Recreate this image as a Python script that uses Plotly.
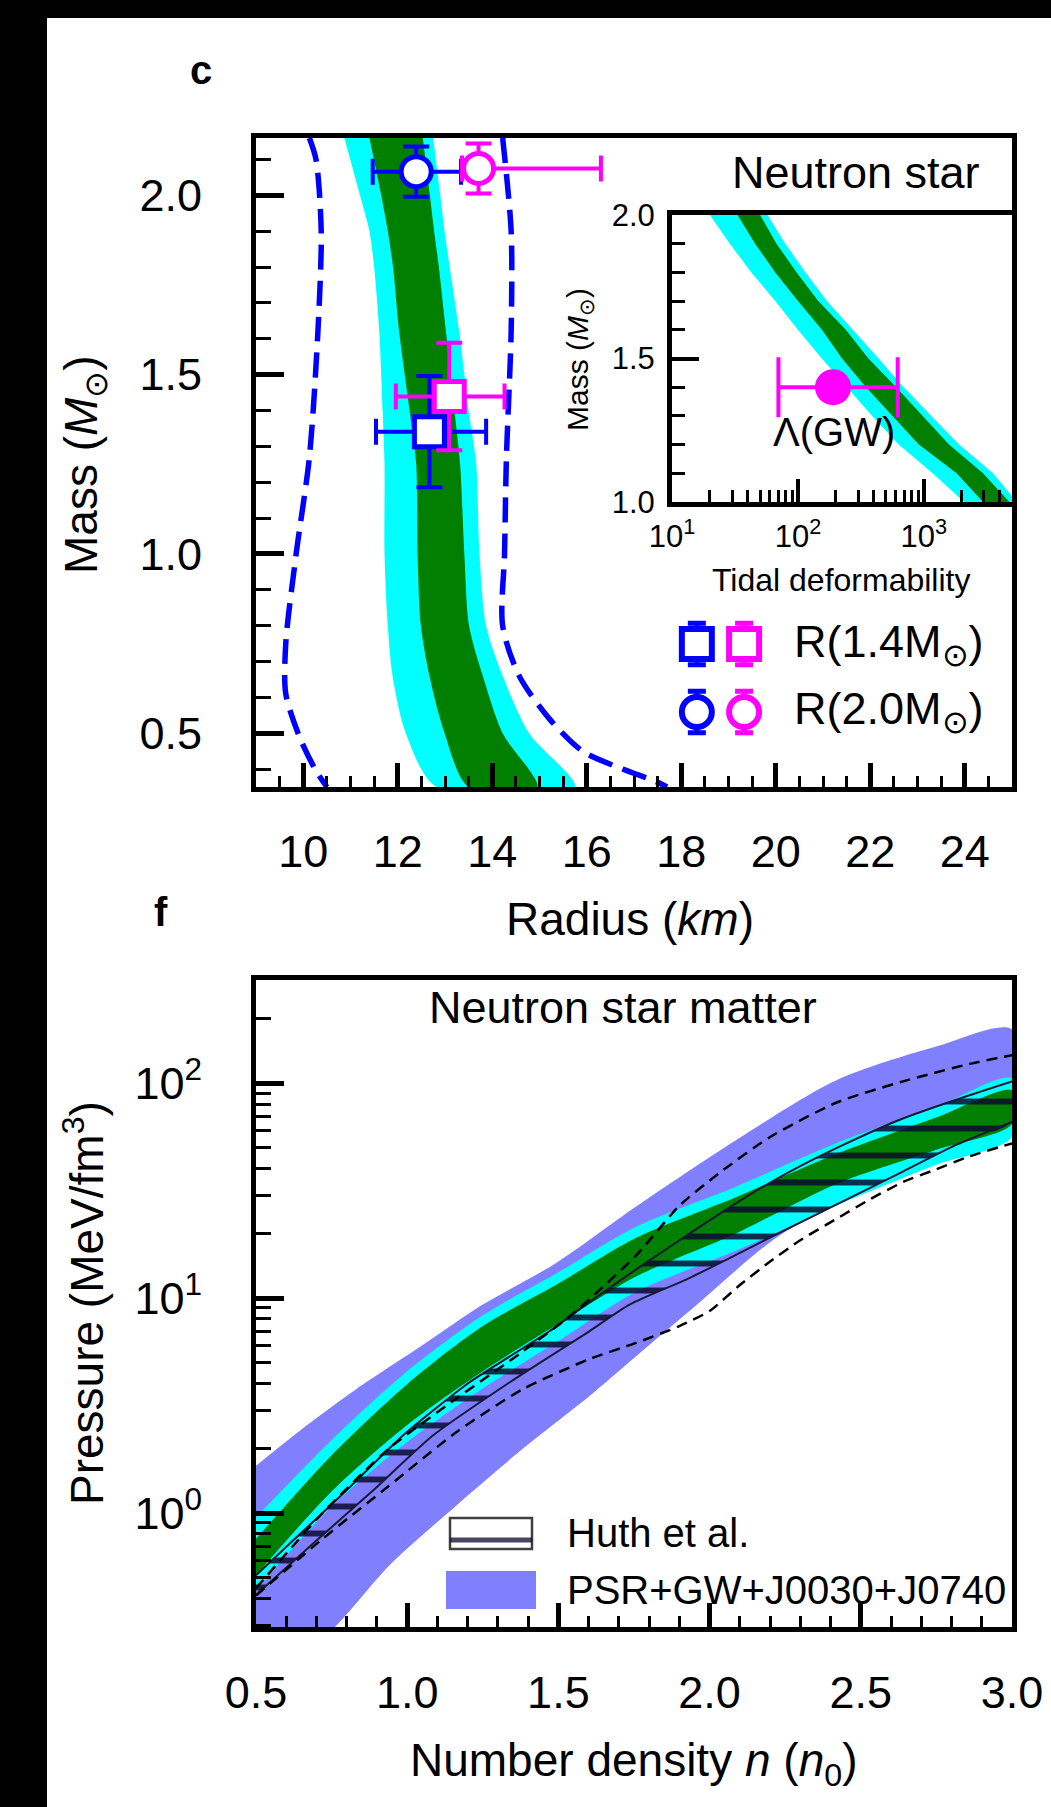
import plotly.graph_objects as go

W, H = 1051, 1807
def px(x): return x / W
def py(y): return 1 - y / H

# ---------------- Panel c: mass-radius ----------------
mass_band = [2.16, 2.00, 1.90, 1.80, 1.62, 1.40, 1.25, 1.00, 0.80, 0.66, 0.50, 0.35]
r_cyan_left = [10.87, 11.20, 11.40, 11.50, 11.61, 11.68, 11.72, 11.72, 11.79, 11.89, 12.17, 12.82]
r_green_left = [11.40, 11.65, 11.79, 11.90, 12.03, 12.25, 12.39, 12.42, 12.49, 12.67, 12.99, 13.50]
r_green_right = [12.53, 12.68, 12.77, 12.87, 13.02, 13.20, 13.32, 13.41, 13.51, 13.80, 14.22, 14.95]
r_cyan_right = [12.75, 12.90, 12.99, 13.10, 13.30, 13.50, 13.66, 13.73, 13.87, 14.22, 14.78, 15.75]

mass_dash_left = [2.16, 2.10, 1.90, 1.62, 1.27, 1.00, 0.75, 0.61, 0.49, 0.40, 0.35]
r_dash_left = [10.13, 10.27, 10.38, 10.31, 10.13, 9.85, 9.63, 9.63, 9.92, 10.25, 10.50]
mass_dash_right = [2.16, 1.90, 1.62, 1.27, 1.00, 0.80, 0.66, 0.54, 0.45, 0.40, 0.365, 0.35]
r_dash_right = [14.22, 14.40, 14.40, 14.30, 14.26, 14.22, 14.57, 15.21, 15.91, 16.76, 17.47, 17.70]

# measurements: radius, mass, errors
blue_circle = dict(r=12.39, m=2.066, rm=0.92, rp=0.95, me=0.07)
mag_circle = dict(r=13.71, m=2.075, rm=0.35, rp=2.59, me=0.07)
blue_square = dict(r=12.67, m=1.341, rm=1.13, rp=1.20, me=0.155)
mag_square = dict(r=13.09, m=1.439, rm=1.13, rp=1.17, me=0.15)

# inset: tidal deformability
mass_inset = [2.0, 1.9, 1.8, 1.7, 1.6, 1.5, 1.4, 1.3, 1.2, 1.1, 1.0]
lam_cyan_left = [20, 28.8, 42.7, 66.1, 100, 155, 245, 389, 631, 1175, 2089]
lam_green_left = [33.1, 45.7, 66.1, 100, 155, 224, 347, 562, 912, 1820, 2951]
lam_green_right = [50.1, 67.6, 97.7, 145, 240, 363, 603, 977, 1585, 2951, 4786]
lam_cyan_right = [57.5, 79.4, 115, 170, 275, 437, 692, 1148, 1905, 3548, 5495]
gw_lambda, gw_mass, gw_minus, gw_plus = 190, 1.4, 120, 430

# ---------------- Panel f: pressure-density ----------------
n_psr_top = [0.5, 0.665, 0.83, 1.05, 1.25, 1.49, 1.757, 2.087, 2.418, 2.749, 3.0]
p_psr_top = [1.66, 2.54, 3.76, 6.03, 9.33, 14.5, 26.7, 54.3, 103, 148, 178]
n_psr_bot = [0.5, 0.765, 0.94, 1.161, 1.38, 1.602, 1.757, 1.977, 2.2, 2.42, 2.64, 2.86, 3.0]
p_psr_bot = [0.141, 0.299, 0.569, 1.08, 1.98, 3.50, 5.37, 9.84, 18.2, 28.2, 39.8, 50.1, 57.5]

n_band = [0.5, 0.75, 1.0, 1.25, 1.5, 1.757, 2.087, 2.418, 2.749, 3.0]
p_cyan_top = [0.955, 2.19, 4.57, 8.32, 13.2, 21.5, 33.0, 52.5, 77.6, 105]
p_green_top = [0.759, 1.86, 3.98, 7.41, 11.7, 19.1, 29.5, 46.8, 69.2, 92.7]
p_green_bot = [0.513, 1.26, 2.57, 4.57, 7.59, 12.6, 20.0, 33.9, 49.0, 64.6]
p_cyan_bot = [0.437, 1.07, 2.14, 3.80, 6.31, 10.7, 16.6, 26.9, 41.7, 56.2]

n_huth_up = [0.5, 0.61, 0.798, 0.985, 1.205, 1.47, 1.591, 1.757, 1.977, 2.121, 2.264, 2.44, 2.639, 2.859, 3.0]
p_huth_up = [0.513, 0.718, 1.27, 2.29, 4.05, 7.01, 9.33, 13.6, 21.9, 29.6, 38.7, 51.5, 68.5, 87.9, 102]
n_huth_lo = [0.5, 0.687, 0.886, 1.084, 1.338, 1.602, 1.735, 1.933, 2.11, 2.286, 2.462, 2.639, 2.815, 3.0]
p_huth_lo = [0.417, 0.718, 1.27, 2.29, 4.05, 7.01, 9.33, 12.4, 16.5, 22.0, 29.2, 38.8, 51.6, 66.1]

n_dash_up = [0.5, 0.72, 0.94, 1.16, 1.38, 1.55, 1.757, 1.90, 2.03, 2.2, 2.42, 2.64, 2.86, 3.0]
p_dash_up = [0.447, 1.0, 2.0, 3.39, 5.62, 8.51, 15.8, 26.9, 38.0, 56.2, 81.3, 102, 123, 135]
n_dash_lo = [0.5, 0.72, 0.94, 1.161, 1.38, 1.6, 1.757, 1.9, 2.0, 2.1, 2.2, 2.3, 2.42, 2.53, 2.64, 2.75, 2.86, 3.0]
p_dash_lo = [0.413, 0.759, 1.34, 2.37, 3.76, 5.19, 6.19, 7.41, 8.71, 11.5, 14.8, 18.6, 23.4, 28.8, 34.7, 39.8, 45.7, 52.5]

# tick labels
mass_ticks = [0.5, 1.0, 1.5, 2.0]
radius_ticks = [10, 12, 14, 16, 18, 20, 22, 24]
inset_mass_ticks = [1.0, 1.5, 2.0]
lam_ticks = [10, 100, 1000]
lam_ticktext = ["10<sup>1</sup>", "10<sup>2</sup>", "10<sup>3</sup>"]
dens_ticks = [0.5, 1.0, 1.5, 2.0, 2.5, 3.0]
p_ticks = [1, 10, 100]
p_ticktext = ["10<sup>0</sup>", "10<sup>1</sup>", "10<sup>2</sup>"]

CYAN = "#00ffff"
GREEN = "#007f00"
PURPLE = "#8080ff"
BLUE = "#0000ff"
MAG = "#ff00ff"
FONT = "Liberation Sans, Arial, Helvetica, sans-serif"

fig = go.Figure()

def band(xl, yl, xr, yr, color, xa, ya, spline=True):
    fig.add_trace(go.Scatter(
        x=list(xl) + list(xr)[::-1], y=list(yl) + list(yr)[::-1],
        fill="toself", fillcolor=color, mode="lines",
        line=dict(width=0, color=color, shape="spline" if spline else "linear", smoothing=0.8),
        xaxis=xa, yaxis=ya, hoverinfo="skip", showlegend=False))

# panel c bands
band(r_cyan_left, mass_band, r_cyan_right, mass_band, CYAN, "x", "y")
band(r_green_left, mass_band, r_green_right, mass_band, GREEN, "x", "y")
for rr, mm in [(r_dash_left, mass_dash_left), (r_dash_right, mass_dash_right)]:
    fig.add_trace(go.Scatter(x=rr, y=mm, mode="lines",
                             line=dict(color=BLUE, width=5.5, dash="25px,11px", shape="spline", smoothing=0.8),
                             xaxis="x", yaxis="y", showlegend=False))

def point(d, color, symbol, xa="x", ya="y", cap=13):
    fig.add_trace(go.Scatter(
        x=[d["r"]], y=[d["m"]], mode="markers",
        marker=dict(symbol=symbol, size=30, color="white", line=dict(color=color, width=5)),
        error_x=dict(type="data", symmetric=False, array=[d["rp"]], arrayminus=[d["rm"]],
                     color=color, thickness=4, width=cap),
        error_y=dict(type="data", array=[d["me"]], color=color, thickness=4, width=cap),
        xaxis=xa, yaxis=ya, showlegend=False))

point(blue_circle, BLUE, "circle")
point(mag_circle, MAG, "circle")
point(blue_square, BLUE, "square")
point(mag_square, MAG, "square")

# legend symbols of panel c (positions in data units of the panel)
leg_r = [18.33, 19.33]
leg_m = [0.749, 0.559]
for j, sym in enumerate(["square", "circle"]):
    for i, col in enumerate([BLUE, MAG]):
        fig.add_trace(go.Scatter(
            x=[leg_r[i]], y=[leg_m[j]], mode="markers",
            marker=dict(symbol=sym, size=30, color="white", line=dict(color=col, width=6)),
            error_y=dict(type="constant", value=0.058, color=col, thickness=5, width=9),
            xaxis="x", yaxis="y", showlegend=False))

# inset
band(lam_cyan_left, mass_inset, lam_cyan_right, mass_inset, CYAN, "x3", "y3", spline=False)
band(lam_green_left, mass_inset, lam_green_right, mass_inset, GREEN, "x3", "y3", spline=False)
fig.add_trace(go.Scatter(
    x=[gw_lambda], y=[gw_mass], mode="markers",
    marker=dict(symbol="circle", size=36, color=MAG),
    error_x=dict(type="data", symmetric=False, array=[gw_plus], arrayminus=[gw_minus],
                 color=MAG, thickness=4, width=30),
    xaxis="x3", yaxis="y3", showlegend=False))

# panel f
band(n_psr_top, p_psr_top, n_psr_bot, p_psr_bot, PURPLE, "x2", "y2")
band(n_band, p_cyan_top, n_band, p_cyan_bot, CYAN, "x2", "y2")
band(n_band, p_green_top, n_band, p_green_bot, GREEN, "x2", "y2")
fig.add_trace(go.Scatter(
    x=n_huth_up + n_huth_lo[::-1], y=p_huth_up + p_huth_lo[::-1],
    fill="toself", fillcolor="rgba(0,0,0,0)", mode="lines",
    fillpattern=dict(shape="-", size=27, solidity=0.22, fgcolor="rgba(10,10,45,0.85)",
                     bgcolor="rgba(0,0,0,0)"),
    line=dict(width=0, shape="spline", smoothing=0.6),
    xaxis="x2", yaxis="y2", showlegend=False))
for nn, pp in [(n_huth_up, p_huth_up), (n_huth_lo, p_huth_lo)]:
    fig.add_trace(go.Scatter(x=nn, y=pp, mode="lines",
                             line=dict(color="rgb(25,25,55)", width=2, shape="spline", smoothing=0.6),
                             xaxis="x2", yaxis="y2", showlegend=False))
for nn, pp in [(n_dash_up, p_dash_up), (n_dash_lo, p_dash_lo)]:
    fig.add_trace(go.Scatter(x=nn, y=pp, mode="lines",
                             line=dict(color="black", width=2.5, dash="11px,7px", shape="spline", smoothing=0.6),
                             xaxis="x2", yaxis="y2", showlegend=False))

def axis_common(**kw):
    d = dict(ticks="inside", tickcolor="black", showline=True, linecolor="black", linewidth=5,
             mirror=True, showgrid=False, zeroline=False, automargin=False,
             tickfont=dict(size=45, family=FONT, color="black"))
    d.update(kw)
    return d

minor_mass = dict(ticks="inside", tickmode="linear", tick0=0, dtick=0.1, ticklen=15, tickwidth=3,
                  tickcolor="black", showgrid=False)

lam_minor = [20, 30, 40, 50, 60, 70, 80, 90, 200, 300, 400, 500, 600, 700, 800, 900, 2000, 3000, 4000]
p_minor = [0.3, 0.4, 0.5, 0.6, 0.7, 0.8, 0.9, 2, 3, 4, 5, 6, 7, 8, 9, 20, 30, 40, 50, 60, 70, 80, 90, 200, 300]

fig.update_layout(
    template="none",
    width=W, height=H, margin=dict(l=0, r=0, t=0, b=0, autoexpand=False),
    paper_bgcolor="white", plot_bgcolor="white", showlegend=False,
    font=dict(family=FONT, color="black"),
    xaxis=axis_common(domain=[px(256), px(1012)], range=[9, 25], anchor="y",
                      tickmode="array", tickvals=radius_ticks, ticklen=24, tickwidth=5,
                      ticklabelstandoff=21,
                      minor=dict(ticks="inside", tickmode="linear", tick0=0, dtick=0.5, ticklen=11,
                                 tickwidth=3, tickcolor="black", showgrid=False)),
    yaxis=axis_common(domain=[py(787), py(138)], range=[0.35, 2.16], anchor="x",
                      tickmode="array", tickvals=mass_ticks, tickformat=".1f", ticklen=28, tickwidth=5,
                      ticklabelstandoff=40, minor=minor_mass),
    xaxis2=axis_common(domain=[px(256), px(1012)], range=[0.5, 3.0], anchor="y2",
                       tickmode="array", tickvals=dens_ticks, tickformat=".1f", ticklen=24, tickwidth=5,
                       ticklabelstandoff=22,
                       minor=dict(ticks="inside", tickmode="linear", tick0=0, dtick=0.1, ticklen=11,
                                  tickwidth=3, tickcolor="black", showgrid=False)),
    yaxis2=axis_common(domain=[py(1627), py(980)], type="log", range=[-0.53, 2.48], anchor="x2",
                       tickmode="array", tickvals=p_ticks, ticktext=p_ticktext, ticklen=28, tickwidth=5,
                       ticklabelstandoff=40,
                       minor=dict(ticks="inside", tickmode="array", tickvals=p_minor, ticklen=15,
                                  tickwidth=3, tickcolor="black", showgrid=False)),
    xaxis3=axis_common(domain=[px(672), px(1012)], type="log", range=[1, 3.7], anchor="y3",
                       tickmode="array", tickvals=lam_ticks, ticktext=lam_ticktext, ticklen=23, tickwidth=4,
                       ticklabelstandoff=3, tickfont=dict(size=31, family=FONT, color="black"),
                       minor=dict(ticks="inside", tickmode="array", tickvals=lam_minor, ticklen=12,
                                  tickwidth=2.5, tickcolor="black", showgrid=False)),
    yaxis3=axis_common(domain=[py(502), py(215)], range=[1.0, 2.0], anchor="x3",
                       tickmode="array", tickvals=inset_mass_ticks, tickformat=".1f", ticklen=27, tickwidth=4,
                       ticklabelstandoff=6, tickfont=dict(size=31, family=FONT, color="black"),
                       minor=dict(ticks="inside", tickmode="linear", tick0=0, dtick=0.1, ticklen=13,
                                  tickwidth=2.5, tickcolor="black", showgrid=False)),
)

def ann(text, x, y, size, xanchor="center", angle=0, bold=False):
    if bold:
        text = "<b>" + text + "</b>"
    fig.add_annotation(text=text, x=px(x), y=py(y), xref="paper", yref="paper",
                       xanchor=xanchor, yanchor="middle", showarrow=False, textangle=angle,
                       font=dict(size=size, family=FONT, color="black"))

ann("c", 201, 70, 40, bold=True)
ann("f", 161, 912, 40, bold=True)
ann("Neutron star", 856, 173, 45)
ann("Neutron star matter", 623, 1008, 45)
ann("Radius (<i>km</i>)", 630, 919, 46)
ann("Number density <i>n</i> (<i>n</i><sub>0</sub>)", 633, 1763, 46)
ann("Mass (<i>M</i><sub>⊙</sub>)", 84, 465, 46, angle=-90)
ann("Pressure (MeV/fm<sup>3</sup>)", 84, 1303, 46, angle=-90)
ann("Mass (<i>M</i><sub>⊙</sub>)", 580, 360, 30, angle=-90)
ann("Tidal deformability", 841, 580, 32)
ann("Λ(GW)", 834, 432, 40)
ann("R(1.4M<sub>⊙</sub>)", 792, 644, 45, xanchor="left")
ann("R(2.0M<sub>⊙</sub>)", 792, 712, 45, xanchor="left")
ann("Huth et al.", 565, 1533, 40, xanchor="left")
ann("PSR+GW+J0030+J0740", 565, 1590, 40, xanchor="left")

# legend boxes of panel f
fig.add_shape(type="rect", xref="paper", yref="paper", x0=px(450), x1=px(532), y0=py(1549), y1=py(1518),
              line=dict(color="rgba(0,0,0,0.75)", width=2.5), fillcolor="white")
fig.add_shape(type="line", xref="paper", yref="paper", x0=px(450), x1=px(532), y0=py(1540), y1=py(1540),
              line=dict(color="rgba(10,10,45,0.75)", width=5))
fig.add_shape(type="rect", xref="paper", yref="paper", x0=px(446), x1=px(536), y0=py(1609), y1=py(1571),
              line=dict(width=0), fillcolor=PURPLE)

# black borders of the original image (left and top strips)
fig.add_shape(type="rect", xref="paper", yref="paper", x0=0, x1=px(47), y0=0, y1=1,
              line=dict(width=0), fillcolor="black")
fig.add_shape(type="rect", xref="paper", yref="paper", x0=0, x1=1, y0=py(18), y1=1,
              line=dict(width=0), fillcolor="black")

fig.write_html("out.html")
